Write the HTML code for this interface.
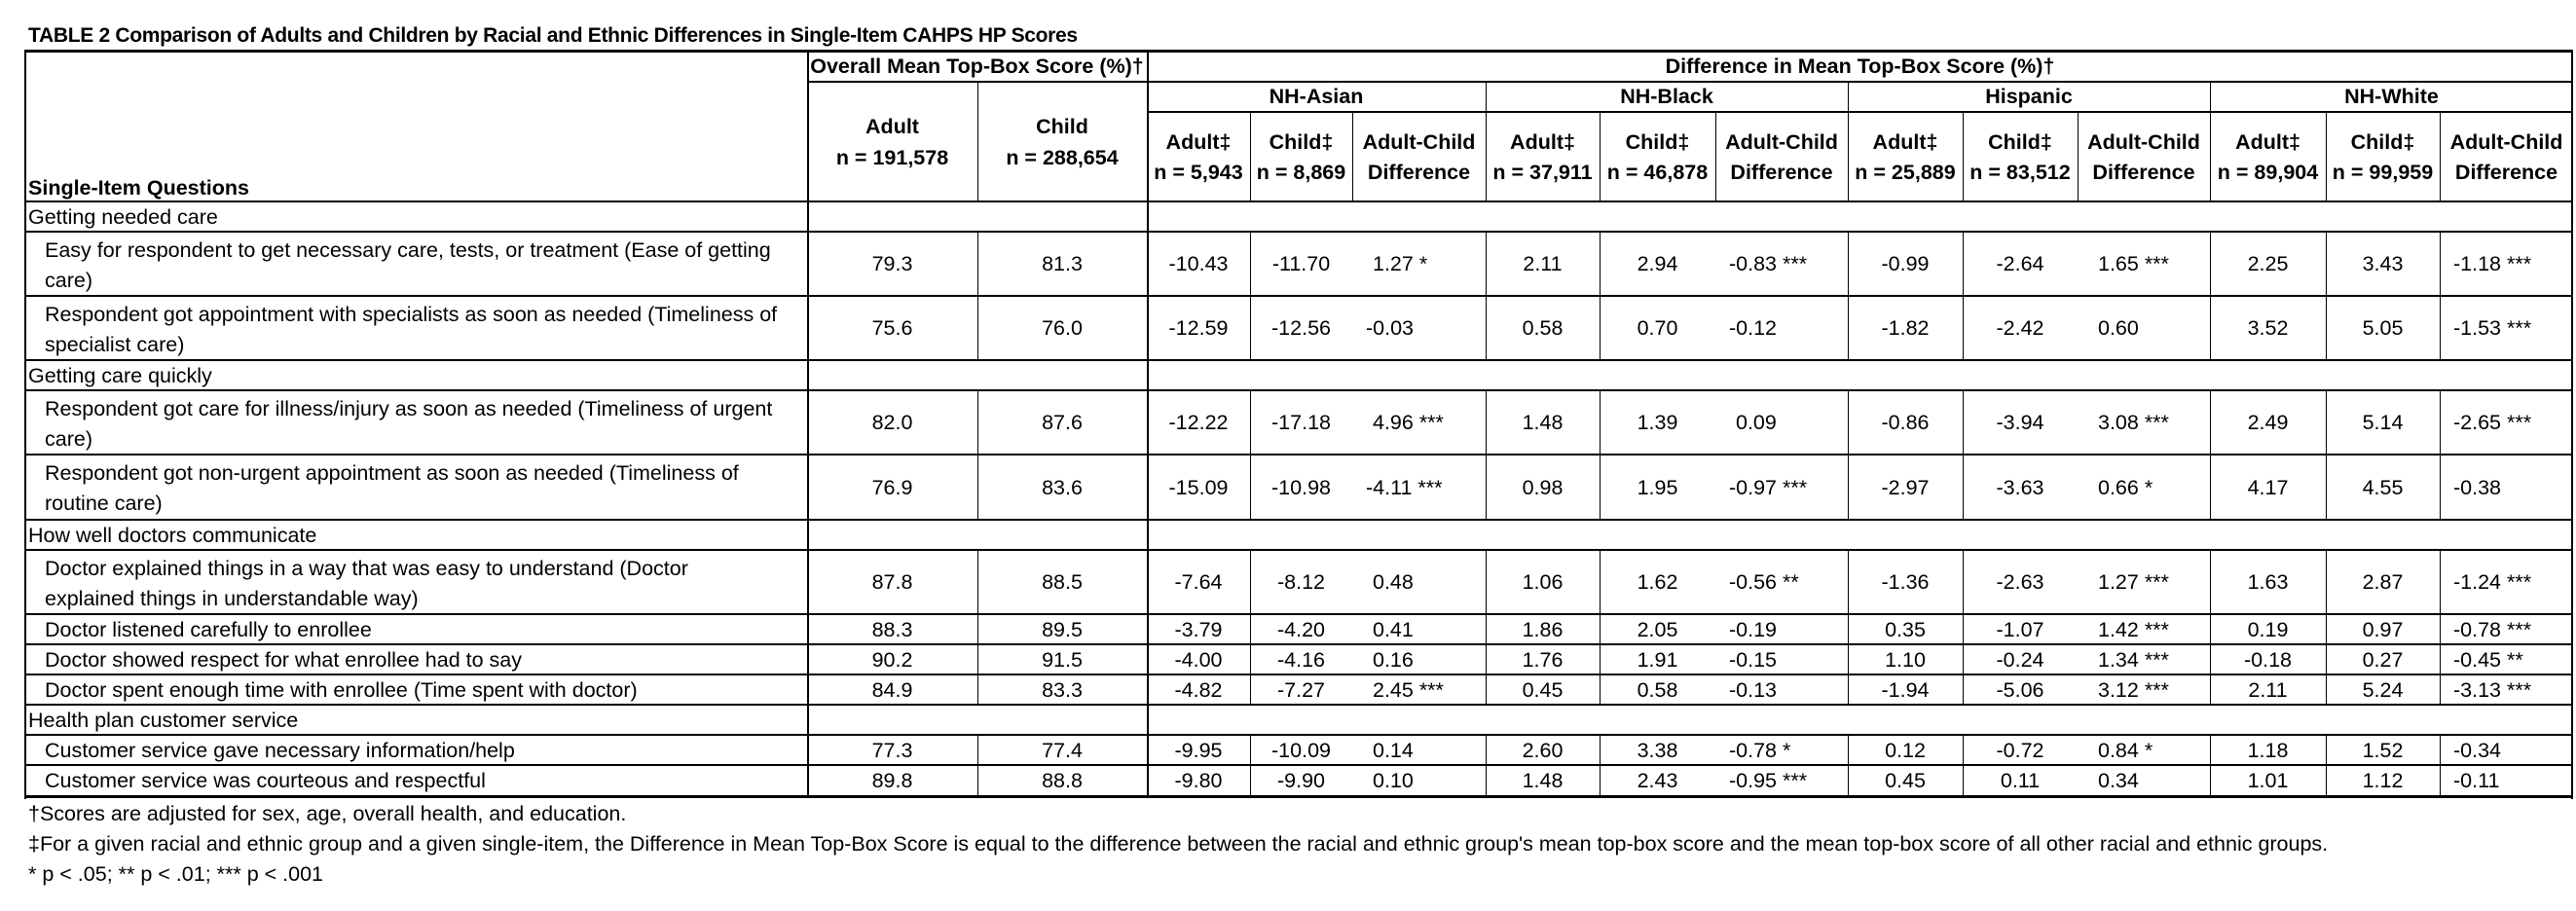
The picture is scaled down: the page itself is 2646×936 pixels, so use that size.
<!DOCTYPE html>
<html><head><meta charset="utf-8"><style>
body{margin:0;background:#fff;width:2646px;height:936px;overflow:hidden;position:relative;font-family:"Liberation Sans",Arial,sans-serif;color:#000}
.t{position:absolute;white-space:nowrap;font-size:21.5px;line-height:22px}
.b{font-weight:bold}
.l{position:absolute;background:#000}
</style></head><body>
<div class="t b" style="left:29px;top:26px;font-size:21px;letter-spacing:-0.3px">TABLE 2 Comparison of Adults and Children by Racial and Ethnic Differences in Single-Item CAHPS HP Scores</div>
<div id="tbl"></div>
<div class="t" style="left:29px;top:825px">†Scores are adjusted for sex, age, overall health, and education.</div>
<div class="t" style="left:29px;top:856px">‡For a given racial and ethnic group and a given single-item, the Difference in Mean Top-Box Score is equal to the difference between the racial and ethnic group's mean top-box score and the mean top-box score of all other racial and ethnic groups.</div>
<div class="t" style="left:29px;top:887px">* p &lt; .05; ** p &lt; .01; *** p &lt; .001</div>
<script>
const colX=[25,829,1004,1178,1284,1389,1526,1643,1762,1898,2016,2134,2270,2389,2506,2643];
const groups=["NH-Asian","NH-Black","Hispanic","NH-White"];
const groupN=[["5,943","8,869"],["37,911","46,878"],["25,889","83,512"],["89,904","99,959"]];
const rows=[
["s","Getting needed care"],
["r","Easy for respondent to get necessary care, tests, or treatment (Ease of getting|care)","79.3","81.3","-10.43","-11.70","1.27 *","2.11","2.94","-0.83 ***","-0.99","-2.64","1.65 ***","2.25","3.43","-1.18 ***"],
["r","Respondent got appointment with specialists as soon as needed (Timeliness of|specialist care)","75.6","76.0","-12.59","-12.56","-0.03","0.58","0.70","-0.12","-1.82","-2.42","0.60","3.52","5.05","-1.53 ***"],
["s","Getting care quickly"],
["r","Respondent got care for illness/injury as soon as needed (Timeliness of urgent|care)","82.0","87.6","-12.22","-17.18","4.96 ***","1.48","1.39","0.09","-0.86","-3.94","3.08 ***","2.49","5.14","-2.65 ***"],
["r","Respondent got non-urgent appointment as soon as needed (Timeliness of|routine care)","76.9","83.6","-15.09","-10.98","-4.11 ***","0.98","1.95","-0.97 ***","-2.97","-3.63","0.66 *","4.17","4.55","-0.38"],
["s","How well doctors communicate"],
["r","Doctor explained things in a way that was easy to understand (Doctor|explained things in understandable way)","87.8","88.5","-7.64","-8.12","0.48","1.06","1.62","-0.56 **","-1.36","-2.63","1.27 ***","1.63","2.87","-1.24 ***"],
["r","Doctor listened carefully to enrollee","88.3","89.5","-3.79","-4.20","0.41","1.86","2.05","-0.19","0.35","-1.07","1.42 ***","0.19","0.97","-0.78 ***"],
["r","Doctor showed respect for what enrollee had to say","90.2","91.5","-4.00","-4.16","0.16","1.76","1.91","-0.15","1.10","-0.24","1.34 ***","-0.18","0.27","-0.45 **"],
["r","Doctor spent enough time with enrollee (Time spent with doctor)","84.9","83.3","-4.82","-7.27","2.45 ***","0.45","0.58","-0.13","-1.94","-5.06","3.12 ***","2.11","5.24","-3.13 ***"],
["s","Health plan customer service"],
["r","Customer service gave necessary information/help","77.3","77.4","-9.95","-10.09","0.14","2.60","3.38","-0.78 *","0.12","-0.72","0.84 *","1.18","1.52","-0.34"],
["r","Customer service was courteous and respectful","89.8","88.8","-9.80","-9.90","0.10","1.48","2.43","-0.95 ***","0.45","0.11","0.34","1.01","1.12","-0.11"]
];
const rowY=[207,238,304,370,401,467,534,565,631,662,693,724,755,786,818];
const T=document.getElementById('tbl');
function line(x,y,w,h,name){const d=document.createElement('div');d.className='l';


d.style.cssText=`left:${x}px;top:${y}px;width:${w}px;height:${h}px`;T.appendChild(d);}
function txt(s,x,y,w,align,cls,name,h){const d=document.createElement('div');d.className='t '+(cls||'');


d.innerHTML=s;let st=`top:${y}px;`;
if(align==='c'){st+=`left:${x}px;width:${w}px;text-align:center;`}else{st+=`left:${x}px;`}
if(h)st+=`line-height:${h}px;`;d.style.cssText=st;T.appendChild(d);}
const L=colX[0],R=colX[15];
line(L,51,R-L,3,'table-top-border');
line(colX[1],83,R-colX[1],2,'header-rule-1');
line(colX[3],114,R-colX[3],2,'header-rule-2');
line(L,206,R-L,2,'header-bottom-rule');
line(L,51,2,rowY[14]-51+3,'left-border');
line(R-2,51,2,rowY[14]-51+3,'right-border');
line(colX[1],51,2,rowY[14]-51,'col-divider-question');
line(colX[3],51,2,rowY[14]-51,'col-divider-overall');
line(colX[2],83,1,124,'header-divider-adult-child');
for(let g=0;g<4;g++){const x0=colX[3+g*3];
if(g>0)line(x0,83,1,124,'group-divider');
line(colX[4+g*3],114,1,93,'subcol-divider');line(colX[5+g*3],114,1,93,'subcol-divider');
txt(groups[g],x0,88,colX[6+g*3]-x0,'c','b','group-header-'+groups[g].toLowerCase());
txt('Adult‡<br>n = '+groupN[g][0],colX[3+g*3],131,colX[4+g*3]-colX[3+g*3],'c','b','adult-n-header',31);
txt('Child‡<br>n = '+groupN[g][1],colX[4+g*3],131,colX[5+g*3]-colX[4+g*3],'c','b','child-n-header',31);
txt('Adult-Child<br>Difference',colX[5+g*3],131,colX[6+g*3]-colX[5+g*3],'c','b','adult-child-difference-header',31);}
txt('Overall Mean Top-Box Score (%)†',colX[1],57,colX[3]-colX[1],'c','b','overall-mean-header');
txt('Difference in Mean Top-Box Score (%)†',colX[3],57,R-colX[3],'c','b','difference-header');
txt('Adult<br>n = 191,578',colX[1],114,colX[2]-colX[1],'c','b','overall-adult-header',32);
txt('Child<br>n = 288,654',colX[2],114,colX[3]-colX[2],'c','b','overall-child-header',32);
txt('Single-Item Questions',29,182,0,'l','b','question-column-header');
for(let i=0;i<rows.length;i++){const r=rows[i];const y0=rowY[i],y1=rowY[i+1],h=y1-y0;
line(L,y1-1,R-L,(i===rows.length-1)?3:2,'row-rule');
if(r[0]==='s'){txt(r[1],29,y0+5,0,'l','','section-label');continue;}
const lines=r[1].split('|');
if(lines.length>1)txt(lines.join('<br>'),46,y0+4,0,'l','','question-label',31);
else txt(r[1],46,y0+5,0,'l','','question-label');
const vy=y0+(h-22)/2;
for(let c=2;c<16;c++){
if(c>3&&c!==6&&c!==9&&c!==12)line(colX[c-1],y0,1,h,'cell-divider');
if(c===2)line(colX[2],y0,1,h,'cell-divider');
const isDiff=(c===6||c===9||c===12||c===15);
if(isDiff)txt(r[c],colX[c-1]+(r[c][0]==='-'?14:21),vy,0,'l','','difference-value');
else txt(r[c],colX[c-1],vy,colX[c]-colX[c-1],'c','','score-value');}
for(const g of [6,9,12])line(colX[g],y0,1,h,'group-divider');
}
</script>
</body></html>
